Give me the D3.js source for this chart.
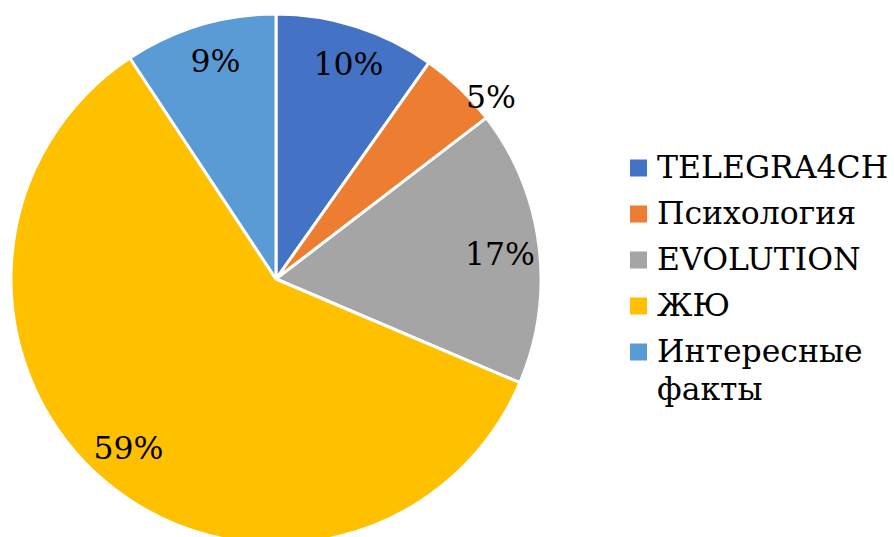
<!DOCTYPE html>
<html>
<head>
<meta charset="utf-8">
<script src="https://cdn.jsdelivr.net/npm/d3@7"></script>
<style>
  body { margin: 0; background: #fff; }
  svg { display: block; }
  text { font-family: "DejaVu Serif", serif; fill: #000; }
</style>
</head>
<body>
<svg id="chart" width="894" height="537"></svg>
<script>
const categories = ["TELEGRA4CH", "Психология", "EVOLUTION", "ЖЮ", "Интересные факты"];
const shares = [9.8, 4.8, 16.8, 59.3, 9.3];
const colors = ["#4472C4", "#ED7D31", "#A5A5A5", "#FFC000", "#5B9BD5"];

const svg = d3.select("svg#chart");

const cx = 276, cy = 279, radius = 265;

const data = categories.map((name, i) => ({ name: name, value: shares[i], color: colors[i] }));
const total = d3.sum(shares);

const pie = d3.pie().value(d => d.value).sort(null);
const arcs = pie(data);

const arc = d3.arc().innerRadius(0).outerRadius(radius);

const pieG = svg.append("g").attr("transform", `translate(${cx},${cy})`);

pieG.selectAll("path.slice")
    .data(arcs)
    .enter().append("path")
    .attr("class", "slice")
    .attr("d", arc)
    .attr("fill", d => d.data.color)
    .attr("stroke", "#fff")
    .attr("stroke-width", 3)
    .attr("stroke-linejoin", "round");

// data labels - small slices go outside, like Excel's best fit
const labelPos = (d) => {
    const frac = d.data.value / total;
    let a, r;
    if (frac < 0.06) {
        a = d.startAngle + 0.85 * (d.endAngle - d.startAngle);
        r = radius * 1.06;
    } else {
        a = (d.startAngle + d.endAngle) / 2 + 0.02;
        r = radius * 0.85;
    }
    return [Math.sin(a) * r, -Math.cos(a) * r];
};

pieG.selectAll("text.label")
    .data(arcs)
    .enter().append("text")
    .attr("class", "label")
    .attr("x", d => labelPos(d)[0])
    .attr("y", d => labelPos(d)[1])
    .attr("dy", "0.3em")
    .attr("text-anchor", "middle")
    .attr("font-size", 31.5)
    .text(d => Math.round(d.data.value / total * 100) + "%");

// legend
const legend = svg.append("g").attr("transform", "translate(630,168)");
const rowH = 46;

const items = legend.selectAll("g.item")
    .data(data)
    .enter().append("g")
    .attr("class", "item")
    .attr("transform", (d, i) => `translate(0,${i * rowH})`);

items.append("rect")
    .attr("x", 0)
    .attr("y", -8.5)
    .attr("width", 17)
    .attr("height", 17)
    .attr("fill", d => d.color);

items.append("text")
    .attr("x", 27)
    .attr("y", 10)
    .attr("font-size", 31.5)
    .each(function (d) {
        const words = d.name.split(" ");
        const t = d3.select(this);
        words.forEach((w, j) => {
            t.append("tspan").attr("x", 27).attr("dy", j === 0 ? 0 : 38).text(w);
        });
    });
</script>
</body>
</html>
